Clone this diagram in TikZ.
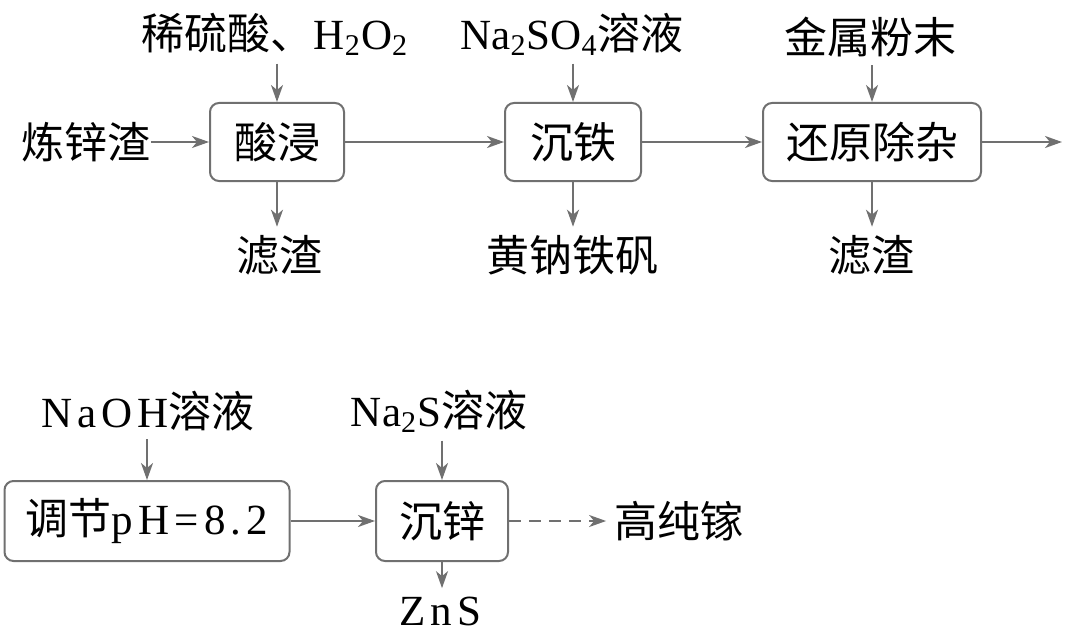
\documentclass[tikz,border=0pt]{standalone}
\usepackage{fontspec}
\setmainfont{Liberation Serif}
\newfontfamily\cjk{Noto Sans CJK SC}
\newfontfamily\wlat{Liberation Serif}[LetterSpace=12]
\usetikzlibrary{arrows.meta}
\definecolor{linegray}{RGB}{112,112,112}
\newcommand{\lat}[1]{{\rmfamily #1}}

\begin{document}
\begin{tikzpicture}[x=0.5pt,y=-0.5pt]
\tikzstyle{every node}+=[inner sep=0pt,font=\fontsize{21.5}{26}\selectfont\cjk]
\tikzstyle{proc}=[draw=linegray,line width=1pt,rounded corners=4.5pt,minimum height=39pt]
\tikzstyle{lbl}=[inner ysep=4pt,inner xsep=4pt]
\tikzstyle{flow}=[draw=linegray,line width=1pt,-{Stealth[length=8.5pt,width=6pt,inset=2.5pt]}]
\useasboundingbox (0,0) rectangle (1080,642);
% first row
\node (zha) at (86,142) {炼锌渣};
\node [proc,minimum width=67pt] (sj) at (277,142) {酸浸};
\node [proc,minimum width=68pt] (ct) at (573,142) {沉铁};
\node [proc,minimum width=109pt] (hy) at (872,142) {还原除杂};
\coordinate (outA) at (1062,142);
\node [lbl] (acid) at (275,34) {稀硫酸、\lat{H\textsubscript{2}O\textsubscript{2}}};
\node [lbl] (nas) at (572,34) {\lat{Na\textsubscript{2}SO\textsubscript{4}}溶液};
\node [lbl] (jsf) at (870,37) {金属粉末};
\node [lbl] (lzA) at (279,255) {滤渣};
\node [lbl] (hfc) at (572,255) {黄钠铁矾};
\node [lbl] (lzB) at (871,255) {滤渣};
\draw [flow] (zha) -- (sj);
\draw [flow] (sj) -- (ct);
\draw [flow] (ct) -- (hy);
\draw [flow] (hy) -- (outA);
\draw [flow] (sj |- acid.south) -- (sj.north);
\draw [flow] (ct |- nas.south) -- (ct.north);
\draw [flow] (hy |- jsf.south) -- (hy.north);
\draw [flow] (sj.south) -- (sj |- lzA.north);
\draw [flow] (ct.south) -- (ct |- hfc.north);
\draw [flow] (hy.south) -- (hy |- lzB.north);
% second row
\node [proc,minimum width=142.5pt,minimum height=40pt] (ph) at (147,521) {调节{\wlat pH=8.2}};
\node [proc,minimum width=66pt,minimum height=40pt] (cx) at (442,521) {沉锌};
\node [lbl] (gcj) at (679,521) {高纯镓};
\node [lbl] (naoh) at (148,411) {{\wlat NaOH}溶液};
\node [lbl] (nass) at (439,411) {\lat{Na\textsubscript{2}S}溶液};
\node [lbl] (zns) at (440,611) {{\wlat ZnS}};
\draw [flow] (ph) -- (cx);
\draw [flow,dash pattern=on 6pt off 4pt] (cx) -- (gcj);
\draw [flow] (ph |- naoh.south) -- (ph.north);
\draw [flow] (cx |- nass.south) -- (cx.north);
\draw [flow] (cx.south) -- (cx |- zns.north);
\end{tikzpicture}
\end{document}
